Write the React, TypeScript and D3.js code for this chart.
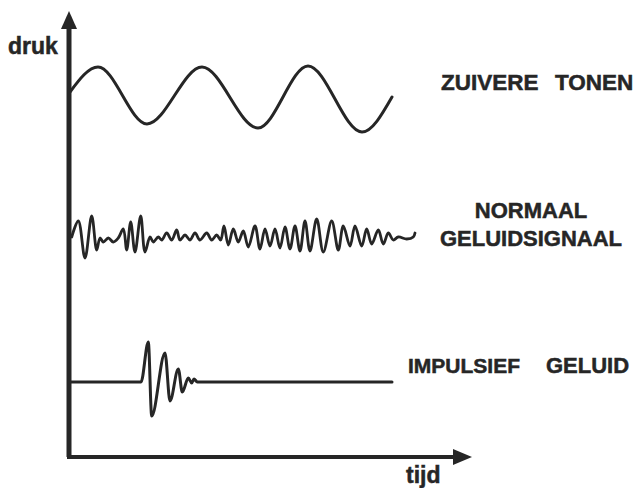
import React, { useEffect, useRef } from "react";
import * as d3 from "d3";

// time (px-like units from the y axis) and pressure (up = positive)
const toneT = [1, 29, 78, 133, 189, 239, 293, 323];
const toneP = [5, 30, -27, 30, -31, 31, -35, 0];

const noiseT = [
  2.7, 9.3, 16, 22.7, 27.7, 31, 34.3, 39.3, 44.3, 49.3, 54.3, 57.7, 61.7, 66, 71.7, 76, 81, 84.3, 89.3, 92.7,
  97.7, 102.7, 107.7, 111, 116, 121, 126, 131, 137.7, 142.7, 147.7, 151.7, 155, 159.3, 164.3, 169.3, 174.3,
  179.3, 186, 191, 196, 201, 206, 211, 216, 221, 226, 231, 236, 241, 247.7, 254.3, 262.7, 269.3, 274.3, 281,
  286, 292.7, 297.7, 302.7, 309.3, 314.3, 319.3, 324.3, 329.3, 337.7, 344.3, 346,
];
const noiseP = [
  1, 17, -20, 22, -12, 0, -4, 0, -4, 0, 9, -12, 16, -14, 22, -14, 1, -4, 1, -2, 5, -2, 8, -2, 3, -2, 5, -2, 5,
  -2, 3, -2, 12, -7, 9, -4, 7, -9, 12, -11, 9, -8, 9, -10, 11, -11, 12, -13, 17, -13, 19, -14, 17, -12, 12, -8,
  12, -8, 9, -6, 8, -6, 5, -2, 1, -1, 1, 5,
];

const impulseT = [0, 72, 79.3, 82.7, 96, 101, 109.3, 113.3, 119.3, 122.7, 125, 128.3, 323];
const impulseP = [0, 0, 40, -34, 29, -19, 13, -10, 4, -1, 3, 0, 0];

const signals = [
  { key: "tone", t: toneT, p: toneP, label: ["ZUIVERE TONEN"] },
  { key: "noise", t: noiseT, p: noiseP, label: ["NORMAAL", "GELUIDSIGNAAL"] },
  { key: "impulse", t: impulseT, p: impulseP, label: ["IMPULSIEF GELUID"] },
];

export default function App() {
  const svgRef = useRef<SVGSVGElement>(null);

  useEffect(() => {
    const svg = d3.select(svgRef.current);
    const width = 638;
    const height = 488;
    svg.attr("width", width).attr("height", height);
    svg.selectAll("*").remove();

    const ink = "#262626";
    const x0 = 69;
    const yAxisBottom = 457;

    // time axis
    const x = d3.scaleLinear().domain([0, 400]).range([x0, x0 + 400]);
    // row baselines and pressure offset
    const baselines = [97, 238, 382];
    const p = d3.scaleLinear().domain([-40, 40]).range([40, -40]);

    signals.forEach((s, i) => {
      const pts = s.t.map((t, j) => [t, s.p[j]] as [number, number]);
      const line = d3
        .line<[number, number]>()
        .x((d) => x(d[0]))
        .y((d) => p(d[1]))
        .curve(i === 1 ? d3.curveCatmullRom.alpha(0.5) : d3.curveMonotoneX);
      svg
        .append("path")
        .attr("transform", `translate(0,${baselines[i]})`)
        .attr("d", line(pts))
        .attr("fill", "none")
        .attr("stroke", ink)
        .attr("stroke-width", i === 1 ? 2.8 : 3)
        .attr("stroke-linejoin", "round")
        .attr("stroke-linecap", "round");
    });

    // axes
    svg
      .append("line")
      .attr("x1", x0)
      .attr("x2", x0)
      .attr("y1", yAxisBottom)
      .attr("y2", 26)
      .attr("stroke", ink)
      .attr("stroke-width", 5);
    svg
      .append("path")
      .attr("d", `M${x0},11 L${x0 + 8},29 L${x0 - 8},29 Z`)
      .attr("fill", ink);
    svg
      .append("line")
      .attr("x1", x0 - 2)
      .attr("x2", 456)
      .attr("y1", yAxisBottom)
      .attr("y2", yAxisBottom)
      .attr("stroke", ink)
      .attr("stroke-width", 4);
    svg
      .append("path")
      .attr("d", `M472,${yAxisBottom} L453,${yAxisBottom - 8} L453,${yAxisBottom + 8} Z`)
      .attr("fill", ink);

    const font = "'Liberation Sans', Arial, sans-serif";
    const txt = (s: string, tx: number, ty: number, size: number, anchor = "start") =>
      svg
        .append("text")
        .attr("x", tx)
        .attr("y", ty)
        .attr("text-anchor", anchor)
        .style("font-family", font)
        .style("font-weight", "bold")
        .style("font-size", `${size}px`)
        .attr("fill", ink)
        .attr("stroke", ink)
        .attr("stroke-width", 0.5)
        .text(s);

    txt("druk", 8, 54, 23);
    txt("tijd", 406, 483, 23);

    // labels
    txt("ZUIVERE", 441, 90, 22.5);
    txt("TONEN", 555, 90, 22.5);
    txt(signals[1].label[0], 531, 218, 22, "middle");
    txt(signals[1].label[1], 531, 246, 22, "middle");
    txt("IMPULSIEF", 408, 373, 21);
    txt("GELUID", 546, 373, 22);
  }, []);

  return <svg ref={svgRef} style={{ position: "absolute", left: 0, top: 0 }}></svg>;
}
